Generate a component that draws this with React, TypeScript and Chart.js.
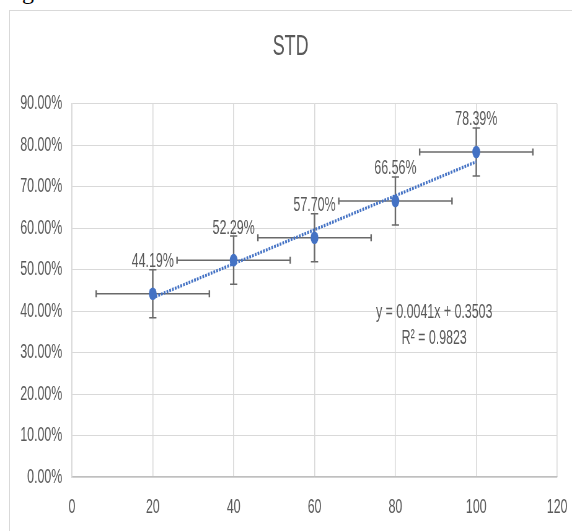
import React, { useEffect, useRef } from 'react';
import { Chart, registerables } from 'chart.js';

Chart.register(...registerables);

// ---- data ----
const xValues = [20, 40, 60, 80, 100];
const yValues = [0.4419, 0.5229, 0.577, 0.6656, 0.7839];
const pointLabels = ['44.19%', '52.29%', '57.70%', '66.56%', '78.39%'];
const yErrors = [0.058, 0.058, 0.058, 0.058, 0.058];
const xErrors = [14, 14, 14, 14, 14];
const trendX = [20, 100];
const trendY = [0.4323, 0.7603];
const equationLines = ['y = 0.0041x + 0.3503', 'R\u00B2 = 0.9823'];
const equationX = 89.6;
const equationY = [0.3833, 0.3206];
const xTickMin = 0;
const xTickMax = 120;
const xTickStep = 20;
const yTickMin = 0;
const yTickMax = 0.9;
const yTickStep = 0.1;
const chartTitle = 'STD';

// ---- style ----
const S = 572 / 923; // horizontal squeeze of the reference picture
const VW = 923;
const VH = 531;
const TEXT = '#595959';
const BLUE = '#4472C4';
const ERR = '#6a6a6a';
const GRID = '#d9d9d9';
const FONT = '"Liberation Sans", Arial, sans-serif';
const TITLE_FONT = '"Liberation Sans Narrow", "Liberation Sans", Arial, sans-serif';

const overlayPlugin = {
  id: 'overlay',
  beforeDatasetsDraw(chart: any) {
    const { ctx, scales } = chart;
    const x = scales.x;
    const y = scales.y;
    ctx.save();
    ctx.strokeStyle = ERR;
    xValues.forEach((xv, i) => {
      const px = x.getPixelForValue(xv);
      const py = y.getPixelForValue(yValues[i]);
      const xl = x.getPixelForValue(xv - xErrors[i]);
      const xr = x.getPixelForValue(xv + xErrors[i]);
      const yt = y.getPixelForValue(yValues[i] + yErrors[i]);
      const yb = y.getPixelForValue(yValues[i] - yErrors[i]);
      // horizontal bar
      ctx.lineWidth = 1.5;
      ctx.beginPath();
      ctx.moveTo(xl, py);
      ctx.lineTo(xr, py);
      ctx.stroke();
      // its end caps (vertical strokes)
      ctx.lineWidth = 1.5 / S;
      ctx.beginPath();
      ctx.moveTo(xl, py - 3.5);
      ctx.lineTo(xl, py + 3.5);
      ctx.moveTo(xr, py - 3.5);
      ctx.lineTo(xr, py + 3.5);
      ctx.stroke();
      // vertical bar
      ctx.beginPath();
      ctx.moveTo(px, yt);
      ctx.lineTo(px, yb);
      ctx.stroke();
      // its caps (horizontal strokes)
      ctx.lineWidth = 1.5;
      ctx.beginPath();
      ctx.moveTo(px - 5.9, yt);
      ctx.lineTo(px + 5.9, yt);
      ctx.moveTo(px - 5.9, yb);
      ctx.lineTo(px + 5.9, yb);
      ctx.stroke();
    });
    ctx.restore();
  },
  afterDatasetsDraw(chart: any) {
    const { ctx, scales } = chart;
    const x = scales.x;
    const y = scales.y;
    ctx.save();
    ctx.fillStyle = TEXT;
    ctx.font = `20px ${FONT}`;
    ctx.textAlign = 'center';
    ctx.textBaseline = 'alphabetic';
    xValues.forEach((xv, i) => {
      const px = x.getPixelForValue(xv);
      const py = y.getPixelForValue(yValues[i]);
      ctx.fillText(pointLabels[i], px, py - 26.5);
    });
    const ex = x.getPixelForValue(equationX);
    equationLines.forEach((line, i) => {
      ctx.fillText(line, ex, y.getPixelForValue(equationY[i]));
    });
    ctx.restore();
  },
};

export default function App() {
  const canvasRef = useRef<HTMLCanvasElement | null>(null);

  useEffect(() => {
    if (!canvasRef.current) return;
    const chart = new Chart(canvasRef.current, {
      type: 'scatter',
      data: {
        datasets: [
          {
            label: 'STD',
            data: xValues.map((xv, i) => ({ x: xv, y: yValues[i] })),
            backgroundColor: BLUE,
            borderColor: BLUE,
            borderWidth: 0,
            pointRadius: 6.3,
            pointHoverRadius: 6.3,
          },
          {
            type: 'line',
            label: 'trend',
            data: trendX.map((xv, i) => ({ x: xv, y: trendY[i] })),
            borderColor: BLUE,
            borderWidth: 3.2,
            borderDash: [2.8, 1.8],
            pointRadius: 0,
            showLine: true,
            fill: false,
          } as any,
        ],
      },
      options: {
        animation: false,
        responsive: false,
        maintainAspectRatio: false,
        devicePixelRatio: 1,
        events: [],
        layout: { padding: { left: 30, right: 15, top: 0, bottom: 0 } },
        plugins: {
          legend: { display: false },
          tooltip: { enabled: false },
          title: {
            display: true,
            text: chartTitle,
            color: TEXT,
            font: { family: TITLE_FONT, size: 29, weight: 'normal' },
            padding: { top: 30, bottom: 39 },
          },
        },
        scales: {
          x: {
            type: 'linear',
            min: xTickMin,
            max: xTickMax,
            afterFit: (scale: any) => {
              scale.height = 54;
            },
            ticks: {
              stepSize: xTickStep,
              padding: 4,
              color: TEXT,
              font: { family: FONT, size: 20 },
              maxRotation: 0,
            },
            grid: {
              color: GRID,
              lineWidth: 1 / S,
              drawTicks: true,
              tickLength: 14,
              tickColor: 'rgba(0,0,0,0)',
            },
            border: { color: '#bfbfbf', width: 1.3 },
          },
          y: {
            type: 'linear',
            min: yTickMin,
            max: yTickMax,
            afterFit: (scale: any) => {
              scale.width = 86;
            },
            ticks: {
              stepSize: yTickStep,
              padding: 15.5,
              color: TEXT,
              font: { family: FONT, size: 20 },
              callback: (v: any) => (Number(v) * 100).toFixed(2) + '%',
            },
            grid: { color: GRID, lineWidth: 1, drawTicks: false },
            border: { color: GRID, width: 1 / S },
          },
          yRight: {
            type: 'linear',
            position: 'right',
            min: yTickMin,
            max: yTickMax,
            afterFit: (scale: any) => {
              scale.width = 9;
            },
            ticks: { display: false },
            grid: { display: false, drawTicks: false },
            border: { display: false },
          },
        },
      },
      plugins: [overlayPlugin],
    });
    return () => chart.destroy();
  }, []);

  return (
    <div
      style={{
        position: 'fixed',
        left: 0,
        top: 0,
        width: 572,
        height: 531,
        overflow: 'hidden',
        background: '#fff',
      }}
    >
      <div
        style={{
          position: 'absolute',
          left: 22,
          top: -21,
          fontFamily: '"Liberation Serif", serif',
          fontSize: 24,
          lineHeight: '24px',
          color: '#000',
        }}
      >
        g
      </div>
      <div
        style={{
          position: 'absolute',
          left: 9,
          top: 10,
          width: 700,
          height: 700,
          border: '1px solid #d9d9d9',
        }}
      />
      <div
        style={{
          position: 'absolute',
          left: 0,
          top: 0,
          width: VW,
          height: VH,
          transform: `scaleX(${S})`,
          transformOrigin: '0 0',
        }}
      >
        <canvas
          ref={canvasRef}
          width={VW}
          height={VH}
          style={{ display: 'block', width: VW, height: VH }}
        />
      </div>
    </div>
  );
}
